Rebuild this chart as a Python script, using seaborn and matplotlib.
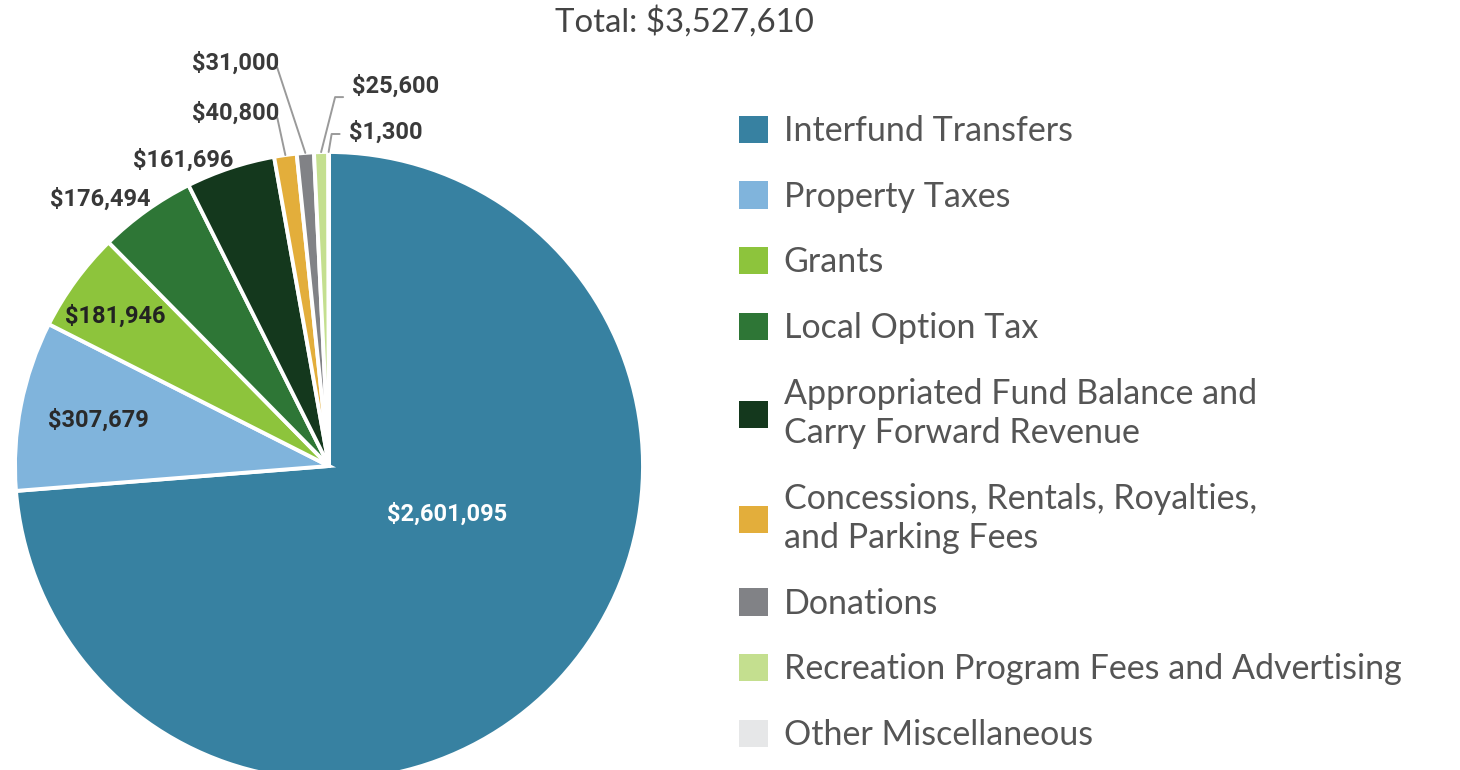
import numpy as np
import matplotlib
matplotlib.use("Agg")
import matplotlib.pyplot as plt
import matplotlib.patches as mpatches
import seaborn as sns

sns.set_theme(style="white")
plt.rcParams['font.family'] = ['Lato', 'DejaVu Sans']

# Revenue sources and amounts
categories = [
    'Interfund Transfers',
    'Property Taxes',
    'Grants',
    'Local Option Tax',
    'Appropriated Fund Balance and\nCarry Forward Revenue',
    'Concessions, Rentals, Royalties,\nand Parking Fees',
    'Donations',
    'Recreation Program Fees and Advertising',
    'Other Miscellaneous',
]
amounts = [2601095, 307679, 181946, 176494, 161696, 40800, 31000, 25600, 1300]
colors = ['#3781a1', '#80b4dc', '#8dc43c', '#2e7636', '#14381d',
          '#e3ae3b', '#818286', '#c4df8f', '#e6e7e8']
total = sum(amounts)

W, H = 1460, 770
fig = plt.figure(figsize=(W / 100, H / 100), dpi=100)
ax = fig.add_axes([0, 0, 1, 1])

cx, cy, R = 329, H - 466, 314
wedges, _ = ax.pie(amounts, colors=colors, startangle=90, counterclock=False,
                   center=(cx, cy), radius=R,
                   wedgeprops=dict(edgecolor='white', linewidth=2.8))
ax.set_xlim(0, W)
ax.set_ylim(0, H)
ax.set_aspect('equal', adjustable='box')
ax.axis('off')

lab_font = dict(family=['Roboto', 'DejaVu Sans'], fontsize=17, fontweight='bold')


def money(v):
    return f"${v:,.0f}"


def polar(theta, r):
    t = np.deg2rad(theta)
    return cx + r * np.cos(t), cy + r * np.sin(t)


# labels placed on/near the wedges: (radius fraction, angle shift, colour)
inside = {0: (0.405, 20.7, 'white'), 1: (0.75, 0.0, '#2a2a2a'),
          2: (0.83, 1.1, '#222222'), 3: (1.12, 5.0, '#383838'),
          4: (1.08, 7.1, '#383838')}
# callout labels: (elbow offset dx, dy, side, text shift)
callout = {5: (-8, 37, 'left', -7), 6: (-28, 85, 'left', -7),
           7: (14, 55, 'right', 11), 8: (3, 18, 'right', 2)}

for i, w in enumerate(wedges):
    mid = (w.theta1 + w.theta2) / 2
    if i in inside:
        rf, dt, col = inside[i]
        x, y = polar(mid + dt, rf * R)
        ax.text(x, y, money(amounts[i]), ha='center', va='center', color=col, **lab_font)
    else:
        dx, dy, side, ty = callout[i]
        x0, y0 = polar(mid, R)
        x1, y1 = x0 + dx, y0 + dy
        if side == 'left':
            ax.plot([x0, x1], [y0, y1], color='#9a9a9a', lw=1.4, clip_on=False)
            ax.text(x1 + 2, y1 + ty, money(amounts[i]), ha='right', va='bottom',
                    color='#3a3a3a', **lab_font)
        else:
            ax.plot([x0, x1, x1 + 8], [y0, y1, y1], color='#9a9a9a', lw=1.4, clip_on=False)
            ax.text(x1 + 17, y1 + ty, money(amounts[i]), ha='left', va='center',
                    color='#3a3a3a', **lab_font)

fig.text(684 / W, 1 - 22 / H, f"Total: {money(total)}", ha='center', va='center',
         fontsize=23.8, color='#444444')

handles = [mpatches.Patch(facecolor=c, edgecolor='none') for c in colors]
fs = 24.5
leg = fig.legend(handles, categories, loc='upper left',
                 bbox_to_anchor=(739 / W, 1 - 115 / H), frameon=False,
                 fontsize=fs, handlelength=0.86, handleheight=0.86,
                 handletextpad=0.45, labelspacing=0.99, borderpad=0,
                 borderaxespad=0)
for t in leg.get_texts():
    t.set_color('#555555')
    t.set_linespacing(1.28)

fig.savefig('out.png', dpi=100)
